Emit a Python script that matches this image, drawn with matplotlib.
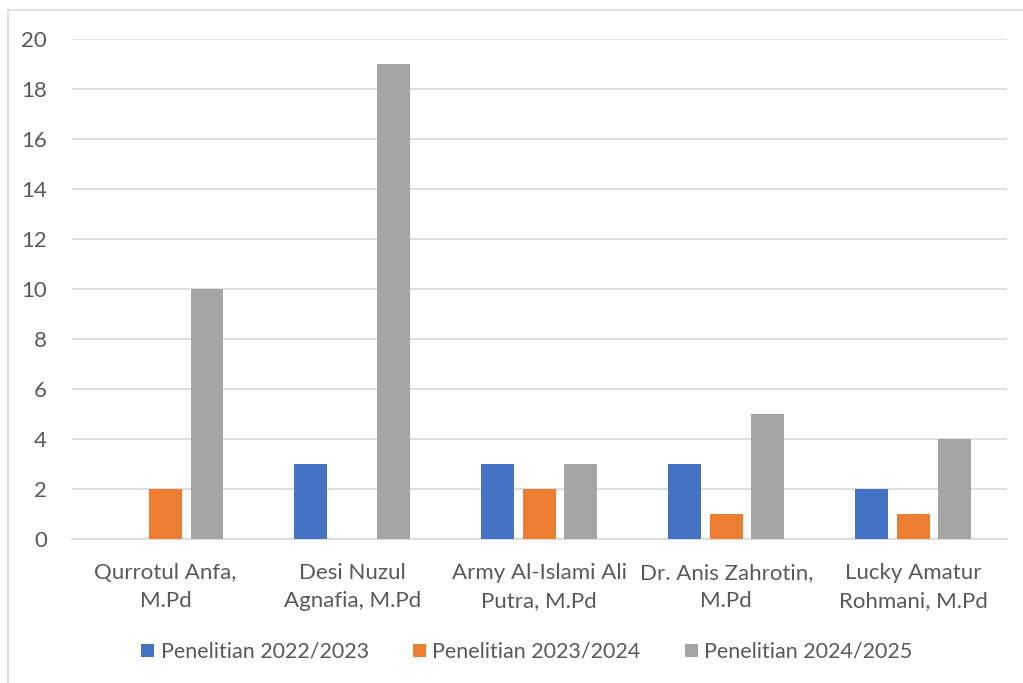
import matplotlib.pyplot as plt
import numpy as np
from matplotlib.patches import Rectangle

categories = [
    "Qurrotul Anfa,\nM.Pd",
    "Desi Nuzul\nAgnafia, M.Pd",
    "Army Al-Islami Ali\nPutra, M.Pd",
    "Dr. Anis Zahrotin,\nM.Pd",
    "Lucky Amatur\nRohmani, M.Pd",
]
series_names = ["Penelitian 2022/2023", "Penelitian 2023/2024", "Penelitian 2024/2025"]
p2022 = [0, 3, 3, 3, 2]
p2023 = [2, 0, 2, 1, 1]
p2024 = [10, 19, 3, 5, 4]
colors = ["#4472C4", "#ED7D31", "#A5A5A5"]

plt.rcParams["font.family"] = ["Lato", "DejaVu Sans"]
text_color = "#595959"
fs = 16

fig = plt.figure(figsize=(10.23, 6.83), dpi=100)
fig.patches.append(Rectangle((8 / 1023, -0.1), 1.2, 1.1 - 10 / 683,
                             transform=fig.transFigure, fill=False,
                             edgecolor="#D9D9D9", linewidth=1.2))
ax = fig.add_axes([0.0704, 0.2108, 0.9136, 0.7321])

x = np.arange(len(categories))
step = 0.222
width = 0.176
for i, (vals, name) in enumerate(zip([p2022, p2023, p2024], series_names)):
    ax.bar(x + (i - 1) * step, vals, width, color=colors[i], label=name, zorder=3)

ax.set_xlim(-0.5, len(categories) - 0.5)
ax.set_ylim(0, 20)
ax.set_yticks(range(0, 21, 2))
ax.grid(axis="y", color="#D9D9D9", linewidth=1.2, zorder=0)
for s in ["top", "right", "left"]:
    ax.spines[s].set_visible(False)
ax.spines["bottom"].set_color("#D9D9D9")
ax.spines["bottom"].set_linewidth(1.2)
ax.set_xticks(x)
ax.set_xticklabels(categories, fontsize=fs, color=text_color, linespacing=1.5)
ax.tick_params(axis="y", labelsize=fs, labelcolor=text_color, length=0, pad=18)
ax.tick_params(axis="x", length=0, pad=17)

fig.legend(loc="center", bbox_to_anchor=(527 / 1023, 1 - 652 / 683), ncol=3, frameon=False,
           fontsize=15.5, labelcolor=text_color, handlelength=0.6, handleheight=0.6,
           handletextpad=0.3, columnspacing=2.05)

fig.savefig("out.png", dpi=100)
